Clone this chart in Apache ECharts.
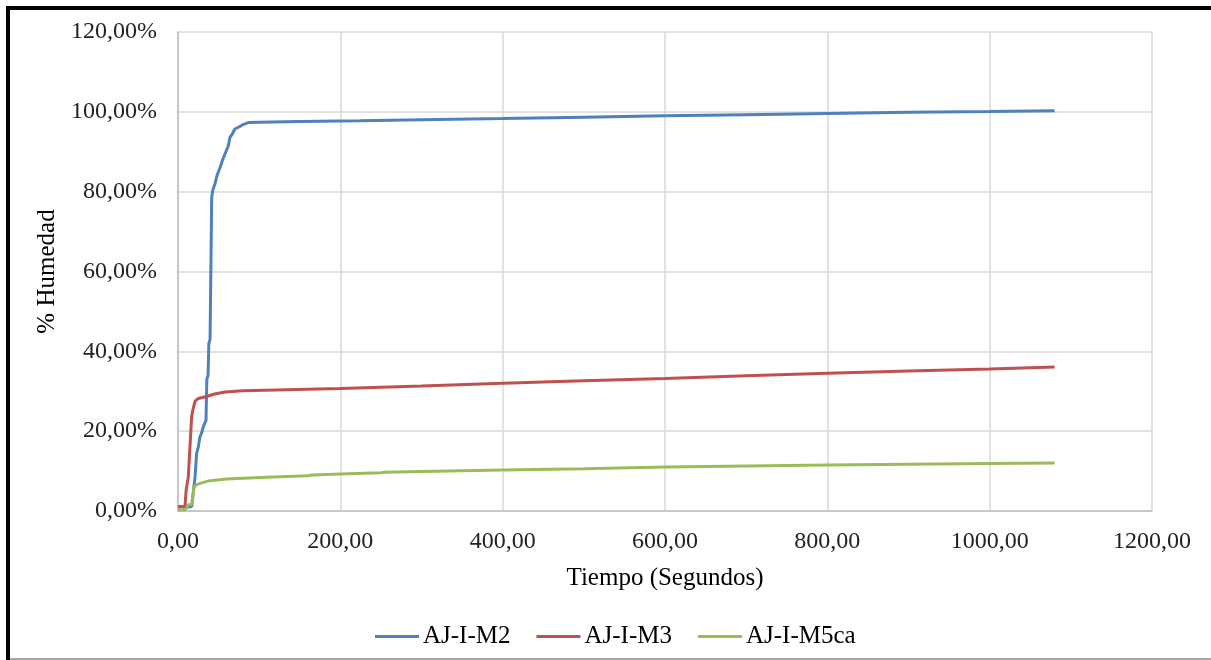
<!DOCTYPE html>
<html>
<head>
<meta charset="utf-8">
<script src="https://cdn.jsdelivr.net/npm/echarts@6/dist/echarts.min.js"></script>
<style>
  html, body { margin: 0; padding: 0; background: #fff; }
  #chart { width: 1211px; height: 660px; }
</style>
</head>
<body>
<div id="chart"></div>
<script>
// Moisture uptake over time (% Humedad vs Tiempo en segundos)
const seriesNames = ['AJ-I-M2', 'AJ-I-M3', 'AJ-I-M5ca'];

const timeM2 = [0, 8, 14, 17, 19, 21, 23, 25, 27, 29, 31, 33, 34.5, 35.5, 37, 38, 39.5, 41.5, 43, 45.6, 48, 51.7, 55, 58, 60, 62, 64, 67, 70, 75, 80, 86.6, 100, 150, 224, 300, 400, 500, 600, 700, 800, 900, 1000, 1080];
const humM2 = [1, 1, 1, 1.2, 5, 8.6, 14.5, 16, 18.6, 19.5, 21, 22, 22.7, 33, 34, 42, 43, 78.6, 80.5, 82, 84, 86, 88, 89.5, 90, 91.5, 93.6, 94.5, 95.7, 96.2, 96.8, 97.3, 97.4, 97.6, 97.75, 98, 98.3, 98.65, 99, 99.3, 99.6, 99.9, 100.1, 100.3];

const timeM3 = [0, 8.6, 10, 11.5, 12.7, 14, 16.8, 18, 21, 25, 35, 45, 58, 80, 120, 200, 300, 400, 500, 600, 700, 800, 900, 1000, 1080];
const humM3 = [1.1, 1.1, 5.2, 5.5, 8.6, 8.2, 23.6, 25, 27.5, 28.2, 28.7, 29.3, 29.8, 30.1, 30.3, 30.7, 31.3, 32, 32.6, 33.2, 33.9, 34.5, 35.1, 35.6, 36.1];

const timeM5ca = [0, 9, 12.7, 17, 19.7, 23, 30, 39.4, 60, 101, 160, 165, 200, 250, 252, 255, 300, 400, 500, 600, 700, 800, 900, 1000, 1080];
const humM5ca = [0.25, 0.3, 1.5, 1.7, 6, 6.6, 7.1, 7.6, 8, 8.4, 8.8, 9.0, 9.25, 9.6, 9.2, 9.7, 9.9, 10.25, 10.6, 11, 11.25, 11.5, 11.7, 11.9, 12.05];

const seriesColors = ['#4f81bd', '#c0504d', '#9bbb59'];

const pairs = (xs, ys) => xs.map((x, i) => [x, ys[i]]);
const comma = (v) => v.toFixed(2).replace('.', ',');
const font = '"Liberation Serif", "Times New Roman", serif';

const chart = echarts.init(document.getElementById('chart'), null, { renderer: 'canvas' });

const lineSeries = [
  pairs(timeM2, humM2),
  pairs(timeM3, humM3),
  pairs(timeM5ca, humM5ca)
].map((data, i) => ({
  name: seriesNames[i],
  type: 'line',
  data: data,
  symbol: 'none',
  smooth: false,
  lineStyle: { color: seriesColors[i], width: 3 },
  itemStyle: { color: seriesColors[i] },
  animation: false
}));

chart.setOption({
  animation: false,
  backgroundColor: '#ffffff',
  textStyle: { fontFamily: font },
  grid: { left: 178, top: 32, right: 59, bottom: 149, containLabel: false },
  xAxis: {
    type: 'value',
    min: 0,
    max: 1200,
    interval: 200,
    name: 'Tiempo (Segundos)',
    nameLocation: 'middle',
    nameGap: 55,
    nameTextStyle: { fontFamily: font, fontSize: 25, color: '#000' },
    axisLine: { show: true, lineStyle: { color: '#bfbfbf', width: 1.5 } },
    axisTick: { show: false },
    axisLabel: { formatter: comma, fontFamily: font, fontSize: 24, color: '#222', margin: 19 },
    splitLine: { show: true, lineStyle: { color: '#d9d9d9', width: 1.5 } }
  },
  yAxis: {
    type: 'value',
    min: 0,
    max: 120,
    interval: 20,
    name: '% Humedad',
    nameLocation: 'middle',
    nameRotate: 90,
    nameGap: 118,
    nameTextStyle: { fontFamily: font, fontSize: 25, color: '#000' },
    axisLine: { show: true, lineStyle: { color: '#bfbfbf', width: 1.5 } },
    axisTick: { show: false },
    axisLabel: { formatter: (v) => comma(v) + '%', fontFamily: font, fontSize: 24, color: '#222', margin: 21 },
    splitLine: { show: true, lineStyle: { color: '#d9d9d9', width: 1.5 } }
  },
  legend: {
    data: seriesNames,
    bottom: 11,
    left: 375,
    padding: 0,
    icon: 'rect',
    itemWidth: 44,
    itemHeight: 3,
    itemGap: 26,
    textStyle: { fontFamily: font, fontSize: 25, color: '#000', padding: [0, 0, 0, -1] }
  },
  graphic: [
    { type: 'rect', shape: { x: 6, y: 6, width: 1205, height: 4 }, style: { fill: '#000' }, silent: true },
    { type: 'rect', shape: { x: 6, y: 6, width: 4, height: 654 }, style: { fill: '#000' }, silent: true },
    { type: 'rect', shape: { x: 10, y: 658, width: 1201, height: 2 }, style: { fill: '#a6a6a6' }, silent: true }
  ],
  series: lineSeries
});
</script>
</body>
</html>
